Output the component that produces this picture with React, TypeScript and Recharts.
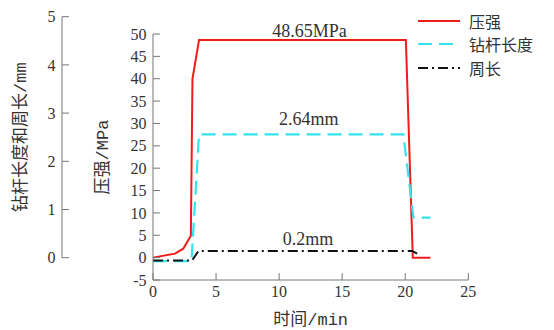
import React from "react";
import {
  LineChart,
  Line,
  XAxis,
  YAxis,
  Legend,
  ReferenceDot,
  Label,
} from "recharts";

// 压强 curve (time in min, MPa)
const pressureTime = [0, 1.75, 2.4, 3.0, 3.13, 3.65, 20.05, 20.6, 22];
const pressureValue = [0, 0.9, 2.0, 4.9, 40, 48.65, 48.65, 0, 0];

// 钻杆长度 curve (mm)
const lengthTime = [0, 3.05, 3.65, 19.85, 20.65, 22];
const lengthValue = [-0.07, -0.07, 2.56, 2.56, 0.83, 0.83];

// 周长 curve (mm)
const perimTime = [0, 3.1, 3.6, 20.55, 21.2];
const perimValue = [-0.06, -0.06, 0.14, 0.14, 0.05];

const xTicks = [0, 5, 10, 15, 20, 25];
const pressureTicks = [-5, 0, 5, 10, 15, 20, 25, 30, 35, 40, 45, 50];
const lengthTicks = [0, 1, 2, 3, 4, 5];
// hidden mm axis inside the main plot, lined up with the separate left mm axis
const lengthDomain = [-0.463, 4.641];

const series = [
  { name: "压强", color: "#f01c1c", dash: undefined as string | undefined },
  { name: "钻杆长度", color: "#33e3f0", dash: "14 7" },
  { name: "周长", color: "#111111", dash: "10 4 2 4" },
];

const zip = (t: number[], v: number[]) => t.map((x, i) => ({ t: x, v: v[i] }));
const pressureData = zip(pressureTime, pressureValue);
const lengthData = zip(lengthTime, lengthValue);
const perimData = zip(perimTime, perimValue);

const axisColor = "#777";
const tickStyle = { fill: "#333", fontSize: 16, fontFamily: "Liberation Serif" };
const cjkFont = "Liberation Mono, Noto Sans CJK SC";

const vTitle = (text: string, dx: number) => (props: any) => {
  const { x, y, height } = props.viewBox;
  const cx = x + dx;
  const cy = y + height / 2;
  return (
    <text
      x={cx}
      y={cy}
      transform={`rotate(-90 ${cx} ${cy})`}
      textAnchor="middle"
      dominantBaseline="central"
      fill="#333"
      fontSize={17}
      fontFamily={cjkFont}
    >
      {text}
    </text>
  );
};

const xTitle = (props: any) => {
  const { x, y, width } = props.viewBox;
  return (
    <text
      x={x + width / 2}
      y={y + 40}
      textAnchor="middle"
      dominantBaseline="central"
      fill="#333"
      fontSize={17}
      fontFamily={cjkFont}
    >
      时间/min
    </text>
  );
};

const legendContent = () => (
  <div style={{ fontFamily: "Noto Sans CJK SC", fontSize: 16, color: "#333" }}>
    {series.map((s) => (
      <div key={s.name} style={{ display: "flex", alignItems: "center", height: 23.5 }}>
        <svg width={44} height={10} style={{ marginRight: 7 }}>
          <line
            x1={0}
            y1={5}
            x2={42}
            y2={5}
            stroke={s.color}
            strokeWidth={2.2}
            strokeDasharray={s.dash}
          />
        </svg>
        <span>{s.name}</span>
      </div>
    ))}
  </div>
);

const annoStyle = { fill: "#333", fontSize: 18, fontFamily: "Liberation Serif" };

export default function App() {
  return (
    <div style={{ position: "absolute", left: 0, top: 0, width: 554, height: 330, background: "#fff" }}>
      {/* left mm axis */}
      <div style={{ position: "absolute", left: 0, top: 0 }}>
        <LineChart
          width={554}
          height={330}
          data={[{ t: 0 }]}
          margin={{ top: 16.7, right: 0, bottom: 72.3, left: 22 }}
        >
          <XAxis hide type="number" dataKey="t" domain={[0, 1]} allowDataOverflow />
          <YAxis
            type="number"
            domain={[0, 5]}
            allowDataOverflow
            ticks={lengthTicks}
            width={40}
            stroke={axisColor}
            tickSize={-7}
            tickMargin={13.5}
            tick={tickStyle}
          >
            <Label content={vTitle("钻杆长度和周长/mm", 0)} />
          </YAxis>
        </LineChart>
      </div>

      {/* main chart */}
      <div style={{ position: "absolute", left: 0, top: 0 }}>
        <LineChart
          width={554}
          height={330}
          margin={{ top: 34, right: 85.7, bottom: 20, left: 100 }}
        >
          <XAxis
            type="number"
            dataKey="t"
            domain={[0, 25]}
            ticks={xTicks}
            height={30}
            stroke={axisColor}
            tickSize={-7}
            tickMargin={13}
            tick={tickStyle}
            allowDuplicatedCategory={false}
          >
            <Label content={xTitle} />
          </XAxis>
          <YAxis
            yAxisId="p"
            type="number"
            domain={[-5, 50]}
            ticks={pressureTicks}
            width={53}
            stroke={axisColor}
            tickSize={-7}
            tickMargin={13.5}
            tick={tickStyle}
            interval={0}
          >
            <Label content={vTitle("压强/MPa", 3)} />
          </YAxis>
          <YAxis
            yAxisId="len"
            type="number"
            orientation="right"
            width={0}
            hide
            domain={lengthDomain}
            allowDataOverflow
          />
          <Legend
            layout="vertical"
            align="center"
            verticalAlign="middle"
            content={legendContent}
            wrapperStyle={{ position: "absolute", left: 418, top: 9, width: 136 }}
          />
          <Line
            yAxisId="p"
            data={pressureData}
            dataKey="v"
            name={series[0].name}
            stroke={series[0].color}
            strokeWidth={2}
            dot={false}
            isAnimationActive={false}
          />
          <Line
            yAxisId="len"
            data={lengthData}
            dataKey="v"
            name={series[1].name}
            stroke={series[1].color}
            strokeWidth={2.2}
            strokeDasharray={series[1].dash}
            dot={false}
            isAnimationActive={false}
          />
          <Line
            yAxisId="len"
            data={perimData}
            dataKey="v"
            name={series[2].name}
            stroke={series[2].color}
            strokeWidth={2}
            strokeDasharray={series[2].dash}
            dot={false}
            isAnimationActive={false}
          />
          <ReferenceDot
            yAxisId="p"
            x={12.4}
            y={48.65}
            r={0}
            label={{ value: "48.65MPa", position: "top", offset: 3, ...annoStyle }}
          />
          <ReferenceDot
            yAxisId="len"
            x={12.35}
            y={2.56}
            r={0}
            label={{ value: "2.64mm", position: "top", offset: 9, ...annoStyle }}
          />
          <ReferenceDot
            yAxisId="len"
            x={12.3}
            y={0.14}
            r={0}
            label={{ value: "0.2mm", position: "top", offset: 6, ...annoStyle }}
          />
        </LineChart>
      </div>
    </div>
  );
}
